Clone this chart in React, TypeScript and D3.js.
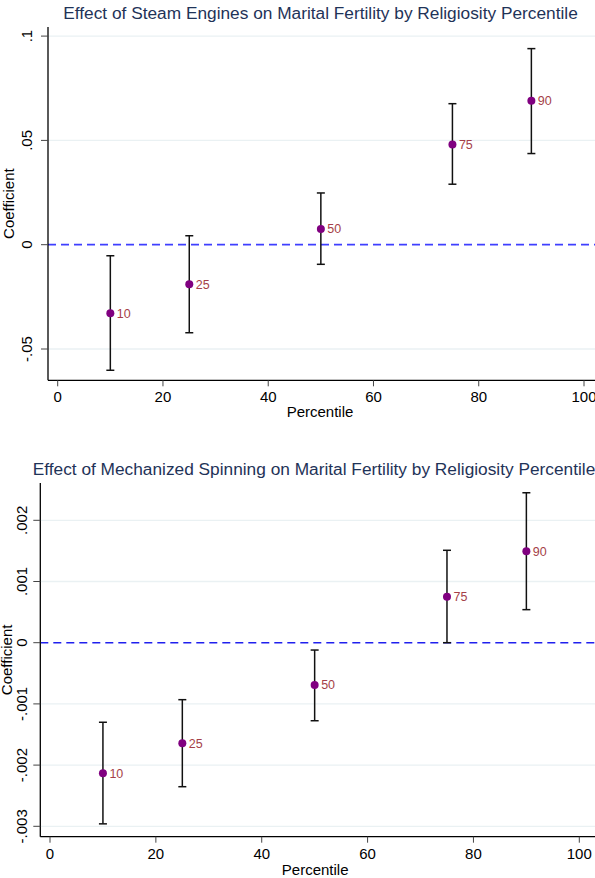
import React from "react";
import * as d3 from "d3";

const percentiles = [10, 25, 50, 75, 90];
const labels = ["10", "25", "50", "75", "90"];

const steamCoef = [-0.0329, -0.019, 0.0075, 0.048, 0.069];
const steamLo = [-0.0602, -0.0422, -0.0094, 0.029, 0.0437];
const steamHi = [-0.0053, 0.0043, 0.0248, 0.0676, 0.094];
const steamYTicks = [-0.05, 0, 0.05, 0.1];
const steamYTickLabels = ["-.05", "0", ".05", ".1"];

const spinCoef = [-0.002134, -0.001644, -0.000691, 0.000752, 0.001493];
const spinLo = [-0.00296, -0.002353, -0.001275, 0.0, 0.00054];
const spinHi = [-0.0013, -0.000931, -0.00012, 0.00151, 0.00245];
const spinYTicks = [-0.003, -0.002, -0.001, 0, 0.001, 0.002];
const spinYTickLabels = ["-.003", "-.002", "-.001", "0", ".001", ".002"];

const xTicks = [0, 20, 40, 60, 80, 100];

const FONT = "'Liberation Sans', Arial, Helvetica, sans-serif";

type PanelProps = {
  title: string;
  titleX: number;
  titleY: number;
  coef: number[];
  lo: number[];
  hi: number[];
  yTicks: number[];
  yTickLabels: string[];
  left: number;
  right: number;
  top: number;
  bottom: number;
  x0px: number;
  x100px: number;
  yRefVal: number;
  yRefPx: number;
  yRef2Val: number;
  yRef2Px: number;
  yLabelX: number;
  yTitleX: number;
  xLabelY: number;
  xTitleY: number;
  zeroWidth: number;
  zeroColor: string;
};

function Panel(p: PanelProps) {
  const x = d3.scaleLinear().domain([0, 100]).range([p.x0px, p.x100px]);
  const y = d3.scaleLinear().domain([p.yRefVal, p.yRef2Val]).range([p.yRefPx, p.yRef2Px]);
  const cap = 4;
  return (
    <g>
      <text x={p.titleX} y={p.titleY} textAnchor="middle" fontFamily={FONT} fontSize={17.3} fill="#1f3358">
        {p.title}
      </text>
      {p.yTicks.map((t, i) =>
        t === 0 ? null : (
          <line key={"g" + i} x1={p.left} x2={p.right + 10} y1={y(t)} y2={y(t)} stroke="#eaf1f3" strokeWidth={1.3} />
        )
      )}
      <line x1={p.left} x2={p.right + 10} y1={y(0)} y2={y(0)} stroke={p.zeroColor} strokeWidth={p.zeroWidth} strokeDasharray="8,5" />
      {/* y axis */}
      <line x1={p.left} x2={p.left} y1={p.top} y2={p.bottom} stroke="#000" strokeWidth={1.3} />
      {p.yTicks.map((t, i) => (
        <g key={"yt" + i}>
          <line x1={p.left - 7} x2={p.left} y1={y(t)} y2={y(t)} stroke="#444" strokeWidth={1} />
          <text
            transform={`translate(${p.yLabelX},${y(t)}) rotate(-90)`}
            textAnchor="middle"
            fontFamily={FONT}
            fontSize={15}
            fill="#000"
            dy="0.35em"
          >
            {p.yTickLabels[i]}
          </text>
        </g>
      ))}
      <text
        transform={`translate(${p.yTitleX},${(p.top + p.bottom) / 2}) rotate(-90)`}
        textAnchor="middle"
        fontFamily={FONT}
        fontSize={15}
        fill="#000"
        dy="0.35em"
      >
        Coefficient
      </text>
      {/* x axis */}
      <line x1={p.left} x2={p.right + 10} y1={p.bottom} y2={p.bottom} stroke="#000" strokeWidth={1.3} />
      {xTicks.map((t, i) => (
        <g key={"xt" + i}>
          <line x1={x(t)} x2={x(t)} y1={p.bottom} y2={p.bottom + 6} stroke="#444" strokeWidth={1} />
          <text x={x(t)} y={p.xLabelY} textAnchor="middle" fontFamily={FONT} fontSize={15} fill="#000" dy="0.35em">
            {t}
          </text>
        </g>
      ))}
      <text x={(p.left + p.right) / 2} y={p.xTitleY} textAnchor="middle" fontFamily={FONT} fontSize={15} fill="#000" dy="0.35em">
        Percentile
      </text>
      {/* error bars */}
      {percentiles.map((pc, i) => (
        <g key={"eb" + i}>
          <line x1={x(pc)} x2={x(pc)} y1={y(p.lo[i])} y2={y(p.hi[i])} stroke="#111" strokeWidth={1.5} />
          <line x1={x(pc) - cap} x2={x(pc) + cap} y1={y(p.lo[i])} y2={y(p.lo[i])} stroke="#111" strokeWidth={1.5} />
          <line x1={x(pc) - cap} x2={x(pc) + cap} y1={y(p.hi[i])} y2={y(p.hi[i])} stroke="#111" strokeWidth={1.5} />
        </g>
      ))}
      {percentiles.map((pc, i) => (
        <g key={"pt" + i}>
          <circle cx={x(pc)} cy={y(p.coef[i])} r={4} fill="#800080" />
          <text x={x(pc) + 6.5} y={y(p.coef[i])} fontFamily={FONT} fontSize={12.5} fill="#a53f48" dy="0.35em">
            {labels[i]}
          </text>
        </g>
      ))}
    </g>
  );
}

export default function App() {
  return (
    <div style={{ position: "absolute", left: 0, top: 0, width: 595, height: 878, background: "#fff" }}>
      <svg width={595} height={878} style={{ display: "block" }}>
        <rect width={595} height={878} fill="#fff" />
        <Panel
          title="Effect of Steam Engines on Marital Fertility by Religiosity Percentile"
          titleX={320.5}
          titleY={19}
          coef={steamCoef}
          lo={steamLo}
          hi={steamHi}
          yTicks={steamYTicks}
          yTickLabels={steamYTickLabels}
          left={48}
          right={592}
          top={27}
          bottom={380.3}
          x0px={57.7}
          x100px={584}
          yRefVal={0}
          yRefPx={244.7}
          yRef2Val={0.05}
          yRef2Px={140.4}
          yLabelX={27}
          yTitleX={9}
          xLabelY={396.7}
          xTitleY={411.7}
          zeroWidth={1.8}
          zeroColor="#3f3fff"
        />
        <Panel
          title="Effect of Mechanized Spinning on Marital Fertility by Religiosity Percentile"
          titleX={314}
          titleY={475}
          coef={spinCoef}
          lo={spinLo}
          hi={spinHi}
          yTicks={spinYTicks}
          yTickLabels={spinYTickLabels}
          left={40.3}
          right={590}
          top={483}
          bottom={836.7}
          x0px={50}
          x100px={579.3}
          yRefVal={0}
          yRefPx={642.7}
          yRef2Val={0.002}
          yRef2Px={520.3}
          yLabelX={21.5}
          yTitleX={6.5}
          xLabelY={853.3}
          xTitleY={869.3}
          zeroWidth={1.4}
          zeroColor="#2020ee"
        />
      </svg>
    </div>
  );
}
